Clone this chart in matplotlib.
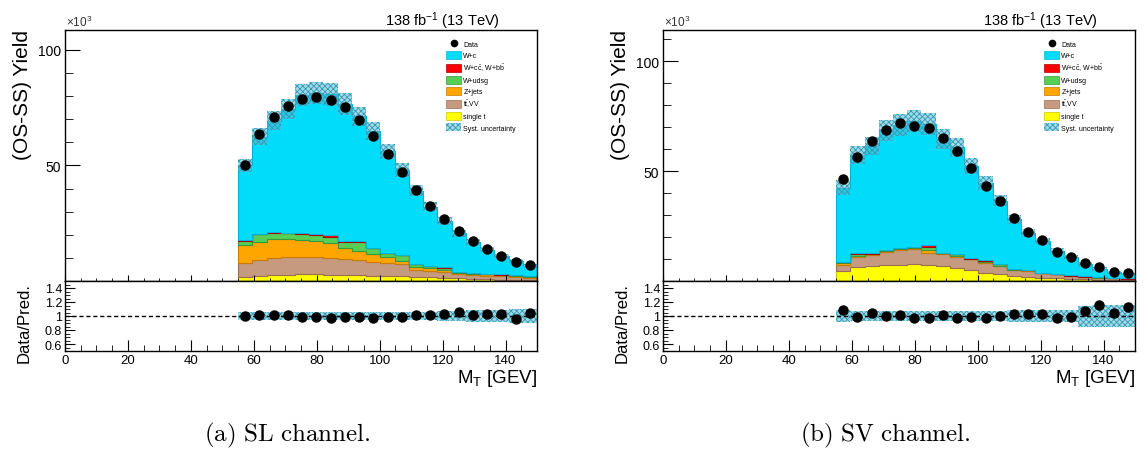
import numpy as np
import matplotlib
matplotlib.use('Agg')
from matplotlib import pyplot as plt
from matplotlib.patches import Patch
from matplotlib.lines import Line2D
from matplotlib.ticker import MultipleLocator, FixedLocator, FuncFormatter

plt.rcParams['font.family'] = ['Liberation Sans', 'DejaVu Sans']
plt.rcParams['mathtext.fontset'] = 'custom'
plt.rcParams['mathtext.rm'] = 'Liberation Sans'
plt.rcParams['mathtext.it'] = 'Liberation Sans:italic'
plt.rcParams['hatch.linewidth'] = 0.6

# binning in M_T (GeV)
mt_lo, mt_hi, n_bins = 55, 150, 21

# ---- SL channel (values in units of 10^3) ----
sl_data = [50.0, 63.6, 70.8, 75.9, 78.9, 79.7, 78.3, 75.1, 69.8, 62.8, 55.0,
           47.0, 39.5, 32.5, 26.7, 21.8, 17.2, 13.9, 10.9, 8.3, 6.8]
sl_single_t = [1.9, 2.3, 2.6, 2.75, 2.9, 2.9, 2.75, 2.6, 2.5, 2.3, 2.2,
               2.0, 1.8, 1.6, 1.4, 1.1, 0.9, 0.7, 0.6, 0.45, 0.3]
sl_ttvv = [5.7, 6.8, 7.5, 7.65, 7.6, 7.6, 7.35, 6.9, 6.6, 6.0, 5.4,
           5.3, 3.0, 2.7, 2.4, 1.8, 1.7, 1.5, 1.4, 1.25, 1.2]
sl_zjets = [7.8, 7.9, 8.0, 7.6, 7.2, 6.9, 6.2, 4.6, 4.0, 3.4, 2.6,
            1.5, 1.1, 1.2, 1.0, 0.7, 0.6, 0.7, 0.6, 0.6, 0.4]
sl_wudsg = [2.0, 3.3, 2.7, 2.6, 2.7, 2.7, 2.8, 2.9, 3.9, 2.4, 2.0,
            2.5, 1.6, 1.0, 1.0, 0.4, 0.4, 0.3, 0.2, 0.1, 0.1]
sl_wccbb = [0.3, 0.2, 0.3, 0.2, 0.3, 0.4, 0.6, 0.2, 0.1, 0.1, 0.1,
            0.1, 0.05, 0.05, 0.05, 0.03, 0.03, 0.02, 0.02, 0.02, 0.02]
sl_wc = [32.3, 41.9, 48.3, 53.6, 59.8, 60.8, 61.0, 59.4, 54.1, 50.5, 43.8,
         36.6, 31.6, 25.6, 20.0, 16.6, 13.3, 10.3, 7.8, 6.2, 4.5]
sl_syst = [0.06, 0.06, 0.06, 0.06, 0.06, 0.06, 0.06, 0.06, 0.06, 0.06, 0.06,
           0.06, 0.06, 0.06, 0.07, 0.07, 0.08, 0.08, 0.09, 0.10, 0.10]

# ---- SV channel ----
sv_data = [46.2, 56.5, 63.6, 68.5, 71.8, 70.6, 69.6, 65.2, 59.3, 51.5, 43.2,
           36.6, 28.8, 22.4, 18.5, 13.3, 10.7, 8.1, 6.5, 4.2, 3.5]
sv_single_t = [4.7, 6.5, 6.8, 7.25, 7.5, 7.7, 7.1, 6.8, 5.7, 5.0, 3.8,
               3.0, 2.1, 1.8, 1.5, 1.2, 0.9, 0.75, 0.6, 0.45, 0.3]
sv_ttvv = [2.7, 4.2, 5.0, 5.75, 6.5, 6.9, 5.7, 5.7, 5.3, 4.8, 4.5,
           3.8, 2.9, 2.9, 2.0, 1.8, 1.4, 1.05, 0.9, 0.75, 0.7]
sv_zjets = [0.6, 0.9, 0.4, 0.6, 0.5, 0.6, 1.2, 0.1, 0.5, 0.2, 0.3,
            0.2, 0.15, 0.15, 0.1, 0.1, 0.1, 0.1, 0.05, 0.05, 0.05]
sv_wudsg = [0.5, 0.9, 0.2, 0.4, 0.3, 0.2, 1.5, 0.1, 0.6, 0.1, 0.5,
            0.6, 0.25, 0.25, 0.2, 0.15, 0.1, 0.1, 0.05, 0.05, 0.05]
sv_wccbb = [0.25, 0.3, 0.3, 0.3, 0.1, 0.1, 1.1, 0.2, 0.4, 0.2, 0.4,
            0.1, 0.05, 0.05, 0.05, 0.05, 0.05, 0.05, 0.05, 0.05, 0.05]
sv_wc = [33.65, 44.6, 48.7, 54.2, 56.2, 57.3, 54.8, 51.7, 48.3, 42.0, 35.0,
         28.9, 22.55, 16.55, 14.15, 10.4, 8.25, 5.55, 3.95, 2.65, 1.95]
sv_syst = [0.08, 0.07, 0.07, 0.07, 0.07, 0.07, 0.07, 0.07, 0.07, 0.07, 0.07,
           0.07, 0.08, 0.08, 0.08, 0.08, 0.08, 0.15, 0.16, 0.16, 0.16]

labels = ['W+c', r'W+c$\bar{\mathrm{c}}$, W+b$\bar{\mathrm{b}}$', 'W+udsg',
          'Z+jets', r't$\bar{\mathrm{t}}$,VV', 'single t']
fills = ['#00DCFA', '#FF0000', '#55CF55', '#FFA500', '#C69A7E', '#FFFF00']
lines = ['#00B4D6', '#B00000', '#3A9A3A', '#C97C00', '#9E6E50', '#C8C800']
band_face = (0.36, 0.72, 0.82, 0.55)
band_hatch = '#2F9CB8'

W, H = 1147, 452
fig = plt.figure(figsize=(W / 100, H / 100), dpi=100)


def px_axes(x0, y0, w, h):
    return fig.add_axes([x0 / W, 1 - (y0 + h) / H, w / W, h / H])


def draw_channel(x0, stack, data, syst, ymax, caption):
    ax = px_axes(x0, 31, 472, 251)
    rx = px_axes(x0, 282, 472, 70)
    edges = np.linspace(mt_lo, mt_hi, n_bins + 1)
    centers = 0.5 * (edges[1:] + edges[:-1])
    binw = edges[1] - edges[0]

    # stack from the bottom (single t) to the top (W+c)
    base = np.zeros(n_bins)
    for vals, fc, lc in zip(stack[::-1], fills[::-1], lines[::-1]):
        top = base + np.array(vals)
        ax.stairs(top, edges, baseline=base, fill=True, facecolor=fc,
                  edgecolor=lc, linewidth=0.8)
        base = top
    total = base
    data = np.array(data)
    rel = np.array(syst)

    ax.bar(centers, 2 * rel * total, bottom=total * (1 - rel), width=binw,
           facecolor=band_face, hatch='xxxxxx', edgecolor=band_hatch, linewidth=0)
    ax.plot(centers, data, 'o', color='black', markersize=6.5, zorder=5)

    ax.set_xlim(0, 150)
    ax.set_ylim(0, ymax)
    ax.xaxis.set_major_locator(MultipleLocator(20))
    ax.xaxis.set_minor_locator(MultipleLocator(5))
    ax.yaxis.set_major_locator(FixedLocator([50, 100]))
    ax.yaxis.set_minor_locator(MultipleLocator(10))
    ax.tick_params(axis='x', which='both', direction='in', labelbottom=False)
    ax.tick_params(axis='x', which='major', length=4.5)
    ax.tick_params(axis='x', which='minor', length=2.2)
    ax.tick_params(axis='y', which='major', direction='in', length=11,
                   labelsize=10, pad=3)
    ax.tick_params(axis='y', which='minor', direction='in', length=5.5)

    handles = [Line2D([], [], marker='o', color='black', linestyle='none',
                      markersize=4.5)]
    handles += [Patch(facecolor=fc, edgecolor=lc, linewidth=0.5)
                for fc, lc in zip(fills, lines)]
    handles.append(Patch(facecolor=band_face, hatch='xxxxxx',
                         edgecolor=band_hatch, linewidth=0))
    ax.legend(handles, ['Data'] + labels + ['Syst. uncertainty'],
              loc='upper left', bbox_to_anchor=(0.80, 0.975), frameon=False,
              fontsize=5, handlelength=2.2, handleheight=1.4,
              labelspacing=0.4, handletextpad=0.3, borderpad=0)

    # ratio panel
    rx.bar(centers, 2 * rel, bottom=1 - rel, width=binw, facecolor=band_face,
           hatch='xxxxxx', edgecolor=band_hatch, linewidth=0)
    rx.axhline(1.0, color='black', linestyle=(0, (3, 2)), linewidth=1.0)
    rx.plot(centers, data / total, 'o', color='black', markersize=6.5, zorder=5)
    rx.set_xlim(0, 150)
    rx.set_ylim(0.5, 1.5)
    rx.xaxis.set_major_locator(MultipleLocator(20))
    rx.xaxis.set_minor_locator(MultipleLocator(5))
    rx.yaxis.set_major_locator(FixedLocator([0.6, 0.8, 1.0, 1.2, 1.4]))
    rx.yaxis.set_minor_locator(MultipleLocator(0.05))
    rx.yaxis.set_major_formatter(FuncFormatter(lambda v, p: '%g' % round(v, 2)))
    rx.tick_params(axis='x', which='major', direction='in', length=8,
                   labelsize=9.5, pad=2)
    rx.tick_params(axis='x', which='minor', direction='in', length=4)
    rx.tick_params(axis='y', which='major', direction='in', length=7,
                   labelsize=9, pad=2)
    rx.tick_params(axis='y', which='minor', direction='in', length=3.5)

    for a in (ax, rx):
        for s in a.spines.values():
            s.set_linewidth(1.0)

    fig.text((x0 - 43) / W, 1 - 30 / H, '(OS-SS) Yield', rotation=90,
             ha='center', va='top', fontsize=15)
    fig.text((x0 - 41) / W, 1 - 283 / H, 'Data/Pred.', rotation=90,
             ha='center', va='top', fontsize=12)
    fig.text((x0 + 1) / W, 1 - 22 / H, r'$\times$10$^{3}$', ha='left',
             va='center', fontsize=8.5, color='#333333')
    fig.text((x0 + 435) / W, 1 - 21 / H, r'138 fb$^{-1}$ (13 TeV)',
             ha='right', va='center', fontsize=10.5)
    fig.text((x0 + 472) / W, 1 - 368 / H, r'M$_{\mathrm{T}}$ [GEV]',
             ha='right', va='top', fontsize=13.5)
    fig.text((x0 + 222) / W, 1 - 435 / H, caption, ha='center', va='center',
             fontsize=18, math_fontfamily='cm')


draw_channel(65, [sl_wc, sl_wccbb, sl_wudsg, sl_zjets, sl_ttvv, sl_single_t],
             sl_data, sl_syst, 108.6, r'$\mathrm{(a)\ SL\ channel.}$')
draw_channel(663, [sv_wc, sv_wccbb, sv_wudsg, sv_zjets, sv_ttvv, sv_single_t],
             sv_data, sv_syst, 114.2, r'$\mathrm{(b)\ SV\ channel.}$')

fig.savefig('out.png', dpi=100)
